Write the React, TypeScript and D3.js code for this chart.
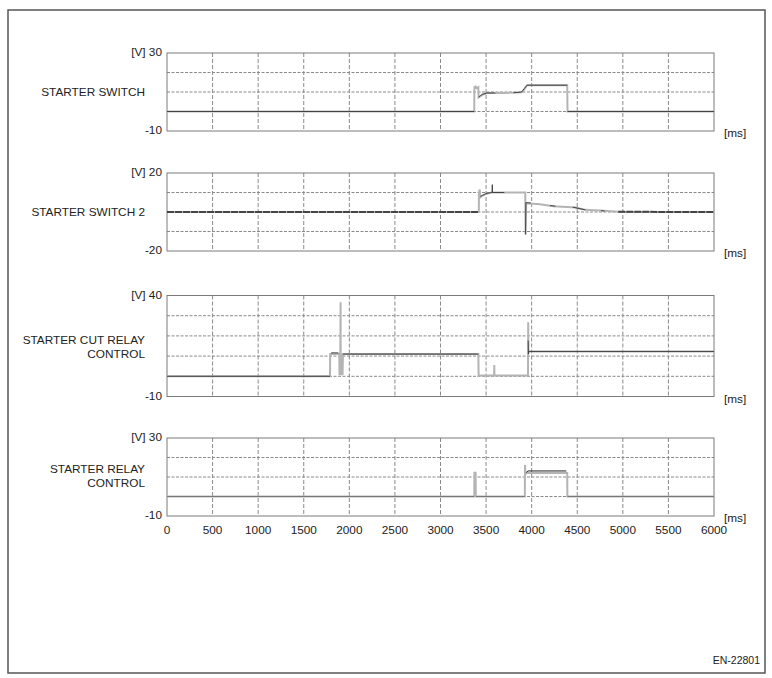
import React from "react";
import * as d3 from "d3";

type Pt = [number, number];

// ---- data (ms, V) ----
const xTicks = [0, 500, 1000, 1500, 2000, 2500, 3000, 3500, 4000, 4500, 5000, 5500, 6000];

const panelNames = [
  ["STARTER SWITCH"],
  ["STARTER SWITCH 2"],
  ["STARTER CUT RELAY", "CONTROL"],
  ["STARTER RELAY", "CONTROL"],
];
const yMins = [-10, -20, -10, -10];
const yMaxs = [30, 20, 40, 30];
const ySteps = [10, 10, 10, 10];

const switchLight: Pt[] = [
  [0, 0], [3370, 0], [3372, 12.5], [3385, 12.8], [3395, 12], [3415, 12.5], [3418, 7.2], [3440, 7.8],
  [3460, 8.6], [3510, 9.5], [3700, 9.5], [3890, 9.8], [3920, 11.5], [3950, 13.5], [4390, 13.5],
  [4393, 0], [6000, 0],
];
const switchDark: Pt[][] = [
  [[0, 0], [3370, 0]],
  [[3418, 7.4], [3440, 8.2], [3460, 8.8], [3510, 9.5], [3600, 9.5]],
  [[3800, 9.6], [3890, 10], [3920, 11.8], [3950, 13.5], [4390, 13.5]],
  [[4393, 0], [6000, 0]],
];

const switch2Light: Pt[] = [
  [0, 0], [3420, 0], [3422, 10], [3430, 11.5], [3435, 7.5], [3450, 8.2], [3505, 9.3], [3560, 10],
  [3930, 10], [3933, -11.5], [3940, 4.5], [4090, 4], [4240, 3], [4480, 2.3], [4590, 1.1],
  [4790, 0.6], [4990, 0], [6000, 0],
];
const switch2Dark: Pt[][] = [
  [[0, 0], [3420, 0]],
  [[3438, 8], [3460, 8.5], [3500, 9.5], [3560, 10], [3700, 10]],
  [[3566, 10], [3568, 14], [3570, 10]],
  [[3933, -11.5], [3936, 4.8], [3990, 4.6]],
  [[4200, 3.3], [4260, 3]],
  [[4450, 2.5], [4590, 1.1]],
  [[4760, 0.7], [4800, 0.5]],
  [[4950, 0.1], [6000, 0]],
];

const cutLight: Pt[] = [
  [0, 0], [1788, 0], [1790, 11], [1890, 11], [1892, 0.5], [1897, 11], [1900, 0.5], [1904, 36.7],
  [1906, 0.5], [1912, 11], [1916, 0.5], [1922, 11], [1926, 0.5], [1930, 11], [3415, 11],
  [3418, 0.4], [3588, 0.4], [3590, 5.6], [3592, 0.4], [3960, 0.4], [3962, 26.7], [3965, 11.5],
  [3970, 12.3], [6000, 12.3],
];
const cutDark: Pt[][] = [
  [[0, 0], [1788, 0]],
  [[1800, 11.6], [1880, 11.6]],
  [[1930, 11], [3415, 11]],
  [[3962, 17.7], [3964, 11], [3968, 12.3], [6000, 12.3]],
];

const relayLight: Pt[] = [
  [0, 0], [3370, 0], [3372, 12.2], [3385, 12.2], [3387, 0], [3925, 0], [3927, 16.2], [3932, 11.5],
  [3945, 12], [4390, 12], [4392, 0], [6000, 0],
];
const relayDark: Pt[][] = [
  [[0, 0], [3370, 0]],
  [[3390, 0], [3925, 0]],
  [[3940, 12.3], [3960, 13.1], [4380, 13.1]],
  [[4392, 0], [6000, 0]],
];

const lightTraces = [switchLight, switch2Light, cutLight, relayLight];
const darkTraces = [switchDark, switch2Dark, cutDark, relayDark];

// ---- layout ----
const plotLeft = 167;
const plotRight = 714;
const panelTops = [53, 173, 295.5, 438];
const panelBottoms = [131, 251, 396.5, 516];
const nameY = [[93], [213], [341, 355], [470, 484]];

const FONT = "'Liberation Sans', Arial, sans-serif";
const FS = 11.8;

export default function App() {
  const x = d3.scaleLinear().domain([0, 6000]).range([plotLeft, plotRight]);
  return (
    <svg width={772} height={678} style={{ position: "absolute", left: 0, top: 0, background: "#fff" }}
      fontFamily={FONT}>
      <rect x={8} y={10} width={757} height={663} fill="#fff" stroke="#555" strokeWidth={1.5} />
      {panelNames.map((names, i) => {
        const y = d3.scaleLinear().domain([yMins[i], yMaxs[i]]).range([panelBottoms[i], panelTops[i]]);
        const hTicks = d3.range(yMins[i] + ySteps[i], yMaxs[i], ySteps[i]);
        const line = d3.line<Pt>().x((d) => x(d[0])).y((d) => y(d[1]));
        const isBase = (k: number) => k === 0 || k === darkTraces[i].length - 1;
        return (
          <g key={i}>
            {xTicks.slice(1, -1).map((t) => (
              <line key={"v" + t} x1={x(t)} x2={x(t)} y1={panelTops[i]} y2={panelBottoms[i]}
                stroke="#8a8a8a" strokeWidth={1} strokeDasharray="4,2" />
            ))}
            {hTicks.map((t) => (
              <line key={"h" + t} x1={plotLeft} x2={plotRight} y1={y(t)} y2={y(t)}
                stroke="#8a8a8a" strokeWidth={1} strokeDasharray="3,1.5" />
            ))}
            <rect x={plotLeft} y={panelTops[i]} width={plotRight - plotLeft}
              height={panelBottoms[i] - panelTops[i]} fill="none" stroke="#7a7a7a" strokeWidth={1} />
            <path d={line(lightTraces[i]) || ""} fill="none" stroke="#b4b4b4" strokeWidth={2} />
            {darkTraces[i].map((seg, k) => (
              <path key={k} d={line(seg) || ""} fill="none"
                stroke={i === 3 ? (k === 2 ? "#222" : "#777") : "#444"}
                strokeWidth={i === 1 && isBase(k) ? 2 : 1}
                strokeDasharray={i === 1 && isBase(k) ? "7,1" : undefined} />
            ))}
            <text x={162} y={panelTops[i]} fontSize={FS} textAnchor="end" dominantBaseline="middle" fill="#222">
              {"[V] " + yMaxs[i]}
            </text>
            <text x={162} y={panelBottoms[i]} fontSize={FS} textAnchor="end" dominantBaseline="middle" fill="#222">
              {String(yMins[i])}
            </text>
            {names.map((n, k) => (
              <text key={k} x={145} y={nameY[i][k]} fontSize={FS} textAnchor="end" dominantBaseline="middle" fill="#222">
                {n}
              </text>
            ))}
            <text x={724} y={panelBottoms[i] + 3} fontSize={FS} dominantBaseline="middle" fill="#222">[ms]</text>
          </g>
        );
      })}
      {xTicks.map((t) => (
        <text key={t} x={x(t)} y={531} fontSize={FS} textAnchor="middle" dominantBaseline="middle" fill="#222">
          {t}
        </text>
      ))}
      <text x={760} y={661} fontSize={10.5} textAnchor="end" dominantBaseline="middle" fill="#222">EN-22801</text>
    </svg>
  );
}
